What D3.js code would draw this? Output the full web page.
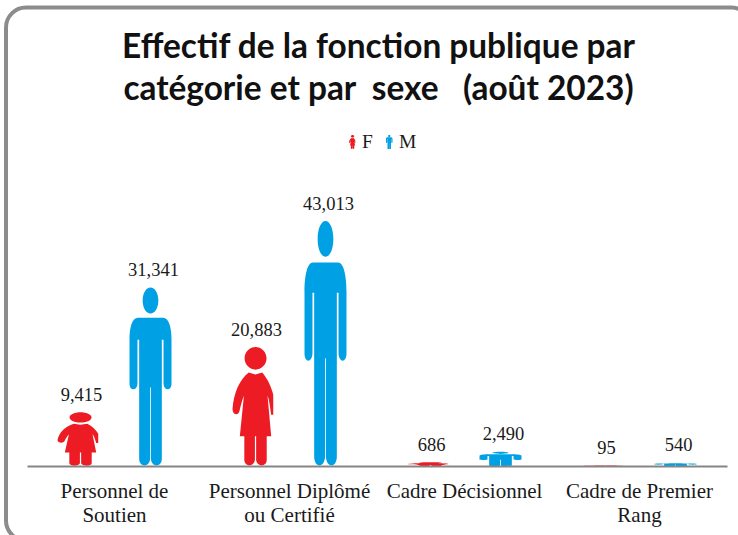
<!doctype html>
<html lang="fr">
    <head>
        <title>Effectif de la fonction publique</title>
        <meta charset="utf-8">
        <script src="https://d3js.org/d3.v7.min.js"></script>
        <style>
            html, body { margin: 0; padding: 0; background: #fff; overflow: hidden; }
            svg { display: block; }
            .num, .lab, .leg { font-family: "Liberation Serif", serif; fill: #1a1a1a; }
        </style>
    </head>
    <body>
        <div id="svg"></div>

<script>

var categories = [["Personnel de", "Soutien"], ["Personnel Diplômé", "ou Certifié"], ["Cadre Décisionnel"], ["Cadre de Premier", "Rang"]];
var femmes = [9415, 20883, 686, 95];
var hommes = [31341, 43013, 2490, 540];
var titleLines = ["Effectif de la fonction publique par", "catégorie et par  sexe   (août 2023)"];
var sexes = ["F", "M"];
var colors = {F: "#ed1c24", M: "#00a1e4"};

var width = 738;
var height = 535;
var baseline = 466;

var svg = d3.select("#svg").append("svg")
    .attr("width", width)
    .attr("height", height);

//rounded frame, it runs off the picture on the right and at the bottom
svg.append("rect")
    .attr("x", 6).attr("y", 7.5)
    .attr("width", 745).attr("height", 533)
    .attr("rx", 20)
    .attr("fill", "none")
    .attr("stroke", "#8c8c8c")
    .attr("stroke-width", 4);

//title
svg.selectAll(".title").data(titleLines).enter().append("text")
    .attr("class", "title")
    .attr("x", 378.5)
    .attr("y", function(d, i) { return 58 + i * 42; })
    .attr("text-anchor", "middle")
    .attr("font-family", "Lato, sans-serif")
    .attr("font-weight", "bold")
    .attr("font-size", 33.4)
    .attr("fill", "#111")
    .style("white-space", "pre")
    .text(function(d) { return d; });

//scales
var x0 = d3.scaleBand().domain(d3.range(categories.length)).range([27, 727]);
var x1 = d3.scaleBand().domain(sexes).range([30.5, 144.5]).paddingInner(30 / 72);
var y = d3.scaleLinear().domain([0, 43013]).range([baseline, 221]);

//pictograms, drawn in a 1x1 box and stretched to the value like the original
var manPath = "M.5 0C.6 0 .687 .03 .687 .073C.687 .116 .6 .146 .5 .146C.4 .146 .313 .116 .313 .073C.313 .03 .4 0 .5 0Z"
    + "M.2 .169H.8C.93 .169 1 .22 1 .29V.54C1 .58 .82 .58 .81 .54V.293H.77V.96C.77 1.01 .52 1.01 .51 .96V.56H.49V.96C.48 1.01 .23 1.01 .23 .96V.293H.19V.54C.18 .58 0 .58 0 .54V.29C0 .22 .07 .169 .2 .169Z";
var womanPath = "M.566 0C.7 0 .836 .04 .836 .095C.836 .15 .7 .19 .566 .19C.43 .19 .296 .15 .296 .095C.296 .04 .43 0 .566 0Z"
    + "M.4 .213L.56 .23L.73 .213C.85 .26 .95 .33 1 .4V.57L.95 .57C.92 .5 .9 .44 .86 .41L.95 .75H.84V.95C.84 1.01 .6 1.01 .58 .95V.75H.55V.95C.53 1.01 .3 1.01 .29 .95V.75H.18L.28 .41C.22 .46 .2 .5 .17 .54C.14 .58 0 .57 0 .52C.03 .38 .18 .27 .4 .213Z";

function drawIcon(sel, sex, left, top, w, h) {
    //the woman picture is cut a bit short on its right side
    var sx = sex == "F" ? w * 0.97 : w;
    sel.append("path")
        .attr("d", sex == "F" ? womanPath : manPath)
        .attr("transform", "translate(" + left + "," + top + ") scale(" + sx + "," + h + ")")
        .attr("fill", colors[sex]);
}

//for each category, draw F then M
categories.forEach(function(cat, i) {
    var g = svg.append("g").attr("transform", "translate(" + x0(i) + ",0)");
    sexes.forEach(function(sex) {
        var v = sex == "F" ? femmes[i] : hommes[i];
        drawIcon(g, sex, x1(sex), y(v), x1.bandwidth(), baseline - y(v));
        //labels sit a little right of the icon centre in the original
        g.append("text")
            .attr("class", "num")
            .attr("x", x1(sex) + x1.bandwidth() / 2 + 3)
            .attr("y", y(v) - 11.5)
            .attr("text-anchor", "middle")
            .attr("font-size", 18.5)
            .text(d3.format(",")(v));
    });
});

//axis
var axis = svg.append("g")
    .attr("transform", "translate(0," + baseline + ")")
    .call(d3.axisBottom(x0).tickSize(0).tickFormat(""));
axis.select(".domain").attr("stroke", "#858585").attr("stroke-width", 2);

//category labels, one or two lines
axis.selectAll(".tick text").each(function(d) {
    var t = d3.select(this).attr("class", "lab").attr("font-size", 21).attr("y", 32).attr("dy", null);
    categories[d].forEach(function(line, k) {
        t.append("tspan").attr("x", 0).attr("dy", k ? 24 : 0).text(line);
    });
});

//legend
var legendX = {F: 349, M: 386};
sexes.forEach(function(sex) {
    drawIcon(svg, sex, legendX[sex], 135, 6.5, 14);
    svg.append("text")
        .attr("class", "leg")
        .attr("x", legendX[sex] + 13)
        .attr("y", 148)
        .attr("font-size", 19.5)
        .text(sex);
});

</script>
    </body>
</html>
